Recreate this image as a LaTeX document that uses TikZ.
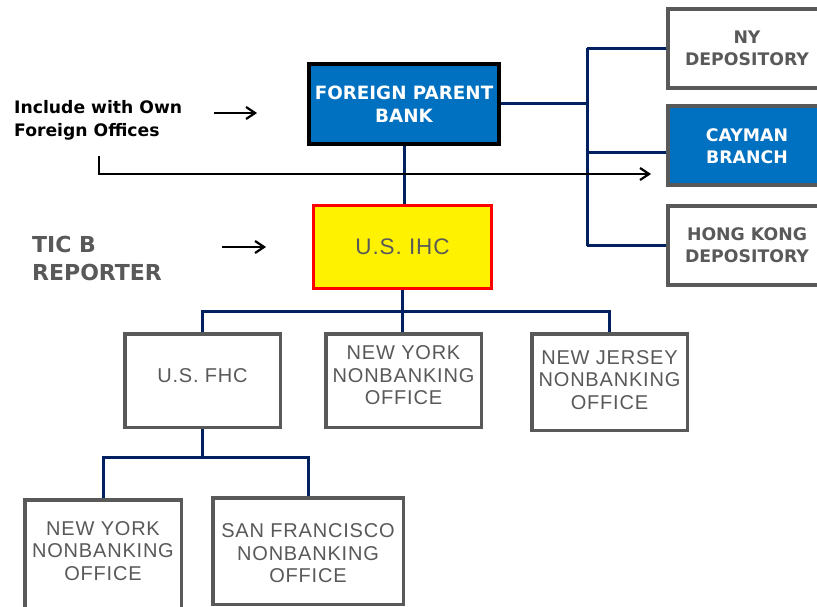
\documentclass[tikz,border=0pt]{standalone}
\usepackage{fontspec}
\setmainfont{Liberation Sans}
\newfontfamily\heavyfont{DejaVu Sans}
\newfontfamily\officefont{Liberation Sans}[LetterSpace=4]
\usetikzlibrary{arrows.meta}

\definecolor{bankblue}{HTML}{0070C0}
\definecolor{linknavy}{HTML}{002060}
\definecolor{boxgray}{HTML}{595959}

\tikzset{
  link/.style={draw=linknavy,line width=3pt},
  pointer/.style={draw=black,line width=2.2pt,-{Straight Barb[length=9pt,width=12pt]}},
  office/.style={draw=boxgray,line width=3.5pt,fill=white,inner sep=0pt},
  officetext/.style={text=boxgray,align=center,font=\officefont\fontsize{20}{22.5}\selectfont},
  depot/.style={draw=boxgray,line width=4pt,inner sep=0pt,minimum width=158pt,minimum height=79pt,
    align=center,font=\heavyfont\bfseries\fontsize{17.3}{22}\selectfont},
}

\begin{document}
\begin{tikzpicture}[x=1pt,y=-1pt]
        \useasboundingbox (0,0) rectangle (817,607);
        % parent bank and the holding company
        \node[draw=black,line width=4pt,fill=bankblue,minimum width=190pt,minimum height=80pt,inner sep=0pt,
          align=center,text=white,font=\heavyfont\bfseries\fontsize{18.3}{23}\selectfont] (bank) at (404,104) {FOREIGN PARENT\\BANK};
        \node[draw=red,line width=3pt,fill=yellow,minimum width=178pt,minimum height=83pt,inner sep=0pt,
          text=boxgray,font=\officefont\fontsize{22.5}{24}\selectfont] (ihc) at (402.5,247) {U.S. IHC};
        % foreign offices
        \node[depot,fill=white,text=boxgray] (ny) at (747,48.5) {NY\\DEPOSITORY};
        \node[depot,fill=bankblue,text=white] (cayman) at (747,146) {CAYMAN\\BRANCH};
        \node[depot,fill=white,text=boxgray] (hk) at (747,245.5) {HONG KONG\\DEPOSITORY};
        % left hand notes
        \node[anchor=west,align=left,inner sep=0pt,font=\heavyfont\bfseries\fontsize{17.2}{23}\selectfont] (include) at (14,120.5) {Include with Own\\Foreign Offices};
        \node[anchor=west,align=left,inner sep=0pt,text=boxgray,font=\heavyfont\bfseries\fontsize{22}{28}\selectfont] (ticb) at (32,258) {TIC B\\REPORTER};
        % U.S. offices
        \node[office,minimum width=155.5pt,minimum height=93.5pt,label={[officetext,yshift=4.5pt]center:U.S. FHC}] (fhc) at (202.5,380.5) {};
        \node[office,minimum width=155.5pt,minimum height=93.5pt,label={[officetext,yshift=5pt]center:{NEW YORK\\NONBANKING\\OFFICE}}] (midny) at (403.5,380.5) {};
        \node[office,minimum width=155.5pt,minimum height=96.5pt,label={[officetext,yshift=2pt]center:{NEW JERSEY\\NONBANKING\\OFFICE}}] (nj) at (609.5,382) {};
        \node[office,minimum width=156.5pt,minimum height=125pt,label={[officetext,yshift=11.5pt]center:{NEW YORK\\NONBANKING\\OFFICE}}] (nyoffice) at (103,562.3) {};
        \node[office,minimum width=190.5pt,minimum height=106.5pt,label={[officetext,yshift=-2.5pt]center:{SAN FRANCISCO\\NONBANKING\\OFFICE}}] (sf) at (308,551) {};

        \coordinate (spine) at (587,0);
        \coordinate (cayman-in) at ([yshift=-7pt]cayman.west);
        \coordinate (bus) at (0,311);
        \coordinate (fhcbus) at (0,457);
        \coordinate (incl-from) at (214,113);
        \coordinate (incl-to) at (257,113);
        \coordinate (tic-from) at (222,247);
        \coordinate (tic-to) at (266,247);
        \coordinate (offices-start) at (99,156);
        \coordinate (offices-end) at (651,174);

        \draw[link] (bank.east) -- (bank.east -| spine);
        \draw[link] (ny.west -| spine) -- (hk.west -| spine);
        \draw[link] (ny.west -| spine) -- (ny.west);
        \draw[link] (cayman-in -| spine) -- (cayman-in);
        \draw[link] (hk.west -| spine) -- (hk.west);
        \draw[link] (bank.south) -- (bank.south |- ihc.north);
        \draw[link] (ihc.south) -- (ihc.south |- midny.north);
        \draw[link] (fhc.north) -- (fhc.north |- bus) -- (nj.north |- bus) -- (nj.north);
        \draw[link] (fhc.south) -- (fhc.south |- fhcbus);
        \draw[link] (nyoffice.north) -- (nyoffice.north |- fhcbus) -- (sf.north |- fhcbus) -- (sf.north);

        \draw[pointer] (incl-from) -- (incl-to);
        \draw[pointer] (tic-from) -- (tic-to);
        \draw[pointer] (offices-start) |- (offices-end);
      \end{tikzpicture}
\end{document}
